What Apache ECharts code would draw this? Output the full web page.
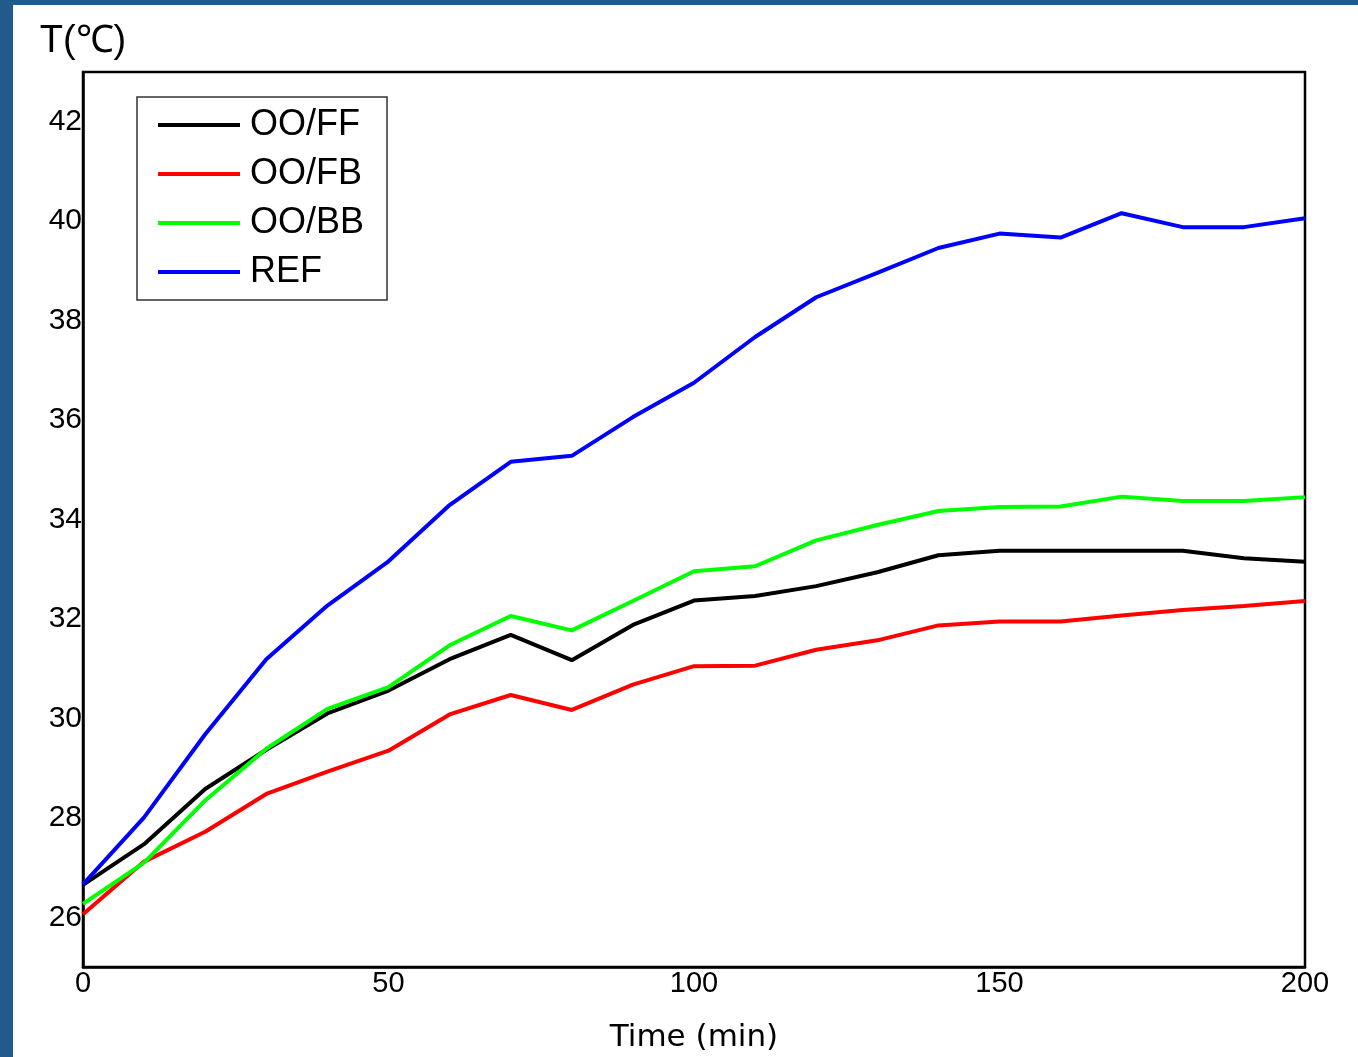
<!DOCTYPE html>
<html>
<head>
<meta charset="utf-8">
<script src="https://cdn.jsdelivr.net/npm/echarts@6/dist/echarts.min.js"></script>
<style>
html,body{margin:0;padding:0;background:#fff;}
#chart{width:1358px;height:1057px;}
</style>
</head>
<body>
<div id="chart"></div>
<script>
// Time (min)
const times = [0,10,20,30,40,50,60,70,80,90,100,110,120,130,140,150,160,170,180,190,200];
// Temperature series (°C)
const ooff = [26.65,27.47,28.58,29.37,30.10,30.56,31.19,31.68,31.17,31.88,32.37,32.46,32.66,32.94,33.28,33.37,33.37,33.37,33.37,33.22,33.15];
const oofb = [26.06,27.12,27.72,28.48,28.93,29.35,30.08,30.47,30.17,30.68,31.05,31.06,31.38,31.57,31.87,31.95,31.95,32.07,32.18,32.26,32.36];
const oobb = [26.27,27.10,28.35,29.39,30.19,30.63,31.47,32.06,31.77,32.36,32.96,33.06,33.58,33.89,34.17,34.25,34.26,34.46,34.37,34.37,34.45];
const ref  = [26.66,28.01,29.68,31.19,32.27,33.16,34.29,35.16,35.28,36.06,36.75,37.67,38.47,38.96,39.46,39.75,39.67,40.16,39.88,39.88,40.06];
const seriesNames = ['OO/FF','OO/FB','OO/BB','REF'];
const seriesColors = ['#000000','#ff0000','#00ff00','#0000ff'];
const seriesData = [ooff, oofb, oobb, ref];
const yLabelValues = [26,28,30,32,34,36,38,40,42];

const chart = echarts.init(document.getElementById('chart'), null, {renderer:'canvas'});
const font = '"Liberation Sans", Arial, sans-serif';

const option = {
  animation: false,
  backgroundColor: '#ffffff',
  graphic: [
    {type:'rect', left:0, top:0, shape:{width:13, height:1057}, style:{fill:'#235a8c'}, z:100},
    {type:'rect', left:0, top:0, shape:{width:1358, height:5}, style:{fill:'#235a8c'}, z:100}
  ],
  grid: {left:83, right:53, top:72, bottom:90, outerBoundsMode:'none', containLabel:false, show:true, borderColor:'#000', borderWidth:2.5, backgroundColor:'transparent'},
  legend: {
    orient:'vertical', left:137, top:97,
    padding:[8,23,8,21],
    itemWidth:82, itemHeight:4, itemGap:9,
    icon:'rect',
    borderColor:'#333', borderWidth:1.5,
    backgroundColor:'#fff',
    textStyle:{fontFamily:font, fontSize:36, color:'#000', lineHeight:40, padding:[0,0,0,5]},
    data: seriesNames
  },
  xAxis: {
    type:'value', min:0, max:200, interval:50,
    name:'Time (min)', nameLocation:'middle', nameGap:53,
    nameTextStyle:{fontFamily:'"DejaVu Sans", sans-serif', fontSize:31, color:'#000', lineHeight:36},
    axisLine:{show:true, onZero:false, lineStyle:{color:'#000', width:2.5}},
    axisTick:{show:false},
    splitLine:{show:false},
    axisLabel:{fontFamily:font, fontSize:29, color:'#000', margin:2}
  },
  yAxis: {
    type:'value', min:25, max:43, interval:1,
    name:'T(℃)', nameLocation:'end', nameGap:10,
    nameTextStyle:{fontFamily:font, fontSize:38, color:'#000', align:'center', verticalAlign:'bottom', lineHeight:40, padding:[0,0,0,0]},
    axisLine:{show:true, onZero:false, lineStyle:{color:'#000', width:2.5}},
    axisTick:{show:false},
    splitLine:{show:false},
    axisLabel:{fontFamily:font, fontSize:30, color:'#000', margin:1,
      formatter: v => yLabelValues.indexOf(v) >= 0 ? String(v) : ''}
  },
  series: seriesNames.map((n, i) => ({
    name:n, type:'line', showSymbol:false, symbol:'none', smooth:false,
    color: seriesColors[i],
    lineStyle:{color:seriesColors[i], width:4},
    data: times.map((t, k) => [t, seriesData[i][k]])
  }))
};
chart.setOption(option);
</script>
</body>
</html>
